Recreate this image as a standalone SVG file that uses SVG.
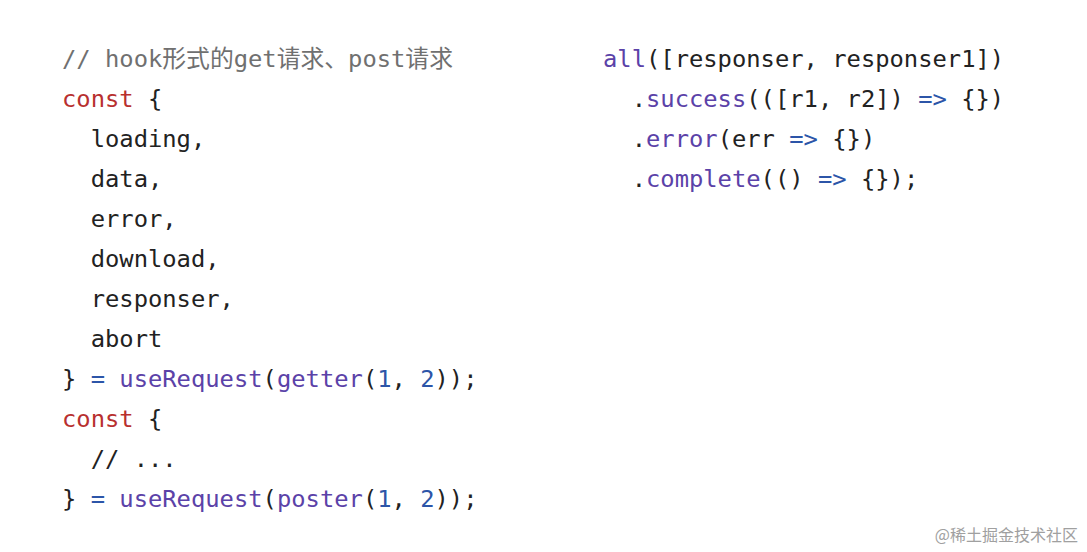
<svg xmlns="http://www.w3.org/2000/svg" width="1087" height="552" viewBox="0 0 1087 552">
<style>
text{font-family:"DejaVu Sans Mono","Liberation Mono","Noto Sans CJK SC",monospace;font-size:23.8px;fill:#222;white-space:pre}
.c{fill:#707070}.k{fill:#b8302f}.f{fill:#5b42a8}.n{fill:#2c55a8}
.w{font-family:"Noto Sans CJK SC",sans-serif;font-size:16px;fill:#a0a0a0}
</style>
<rect width="1087" height="552" fill="#fff"/>
<g id="left">
<text x="62" y="67" class="c">// hook形式的get请求、post请求</text>
<text x="62" y="107"><tspan class="k">const</tspan> {</text>
<text x="62" y="147">  loading,</text>
<text x="62" y="187">  data,</text>
<text x="62" y="227">  error,</text>
<text x="62" y="267">  download,</text>
<text x="62" y="307">  responser,</text>
<text x="62" y="347">  abort</text>
<text x="62" y="387">} <tspan class="n">=</tspan> <tspan class="f">useRequest</tspan>(<tspan class="f">getter</tspan>(<tspan class="n">1</tspan>, <tspan class="n">2</tspan>));</text>
<text x="62" y="427"><tspan class="k">const</tspan> {</text>
<text x="62" y="467">  // ...</text>
<text x="62" y="507">} <tspan class="n">=</tspan> <tspan class="f">useRequest</tspan>(<tspan class="f">poster</tspan>(<tspan class="n">1</tspan>, <tspan class="n">2</tspan>));</text>
</g>
<g id="right">
<text x="603" y="67"><tspan class="f">all</tspan>([responser, responser1])</text>
<text x="603" y="107">  .<tspan class="f">success</tspan>(([r1, r2]) <tspan class="n">=&gt;</tspan> {})</text>
<text x="603" y="147">  .<tspan class="f">error</tspan>(err <tspan class="n">=&gt;</tspan> {})</text>
<text x="603" y="187">  .<tspan class="f">complete</tspan>(() <tspan class="n">=&gt;</tspan> {});</text>
</g>
<text class="w" x="1078" y="541" text-anchor="end">@稀土掘金技术社区</text>
</svg>
